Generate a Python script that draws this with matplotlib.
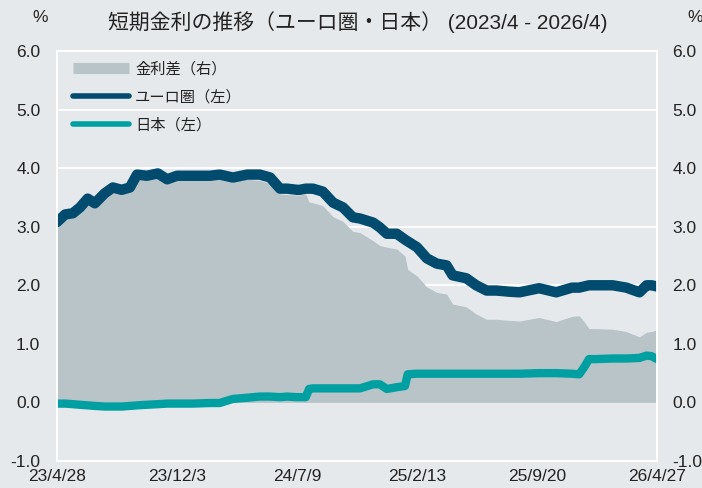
import matplotlib
matplotlib.use("Agg")
import matplotlib.pyplot as plt
from matplotlib.lines import Line2D
import pandas as pd

# ---------------------
# Data
# ---------------------
dates = [
    "2023-04-28", "2023-05-13", "2023-05-27", "2023-06-09", "2023-06-23",
    "2023-07-06", "2023-07-24", "2023-08-08", "2023-08-24", "2023-09-08",
    "2023-09-21", "2023-10-09", "2023-10-29", "2023-11-15", "2023-12-03",
    "2024-01-01", "2024-02-01", "2024-02-19", "2024-03-14", "2024-04-09",
    "2024-05-02", "2024-05-21", "2024-06-08", "2024-06-21", "2024-07-09",
    "2024-07-14", "2024-07-25", "2024-07-31", "2024-08-07", "2024-08-25",
    "2024-09-13", "2024-10-01", "2024-10-19", "2024-11-01", "2024-11-25",
    "2024-12-07", "2024-12-20", "2025-01-07", "2025-01-22", "2025-01-27",
    "2025-02-13", "2025-03-03", "2025-03-21", "2025-04-08", "2025-04-19",
    "2025-05-14", "2025-06-01", "2025-06-20", "2025-07-08", "2025-08-01",
    "2025-08-19", "2025-09-24", "2025-10-25", "2025-11-23", "2025-12-06",
    "2025-12-15", "2025-12-24", "2026-01-06", "2026-02-05", "2026-03-02",
    "2026-03-26", "2026-04-08", "2026-04-17", "2026-04-27",
]
euro = [
    3.08, 3.21, 3.23, 3.33, 3.48, 3.40, 3.57, 3.67, 3.63, 3.67,
    3.89, 3.87, 3.91, 3.81, 3.87, 3.87, 3.87, 3.89, 3.84, 3.89,
    3.89, 3.84, 3.65, 3.65, 3.63, 3.63, 3.65, 3.65, 3.65, 3.60,
    3.41, 3.33, 3.16, 3.14, 3.07, 2.99, 2.88, 2.88, 2.78, 2.75,
    2.65, 2.46, 2.37, 2.34, 2.17, 2.12, 2.00, 1.91, 1.91, 1.89,
    1.88, 1.95, 1.88, 1.96, 1.96, 1.98, 2.00, 2.00, 2.00, 1.96,
    1.88, 2.00, 2.00, 1.98,
]
japan = [
    -0.02, -0.02, -0.03, -0.04, -0.05, -0.06, -0.07, -0.07, -0.07, -0.06,
    -0.05, -0.04, -0.03, -0.02, -0.02, -0.02, -0.01, -0.01, 0.06, 0.08,
    0.10, 0.10, 0.09, 0.10, 0.09, 0.09, 0.09, 0.23, 0.24, 0.24,
    0.24, 0.24, 0.24, 0.24, 0.31, 0.31, 0.23, 0.26, 0.28, 0.48,
    0.49, 0.49, 0.49, 0.49, 0.49, 0.49, 0.49, 0.49, 0.49, 0.49,
    0.49, 0.50, 0.50, 0.49, 0.48, 0.60, 0.74, 0.74, 0.75, 0.75,
    0.76, 0.80, 0.79, 0.74,
]
spread = [
    3.10, 3.23, 3.26, 3.37, 3.53, 3.46, 3.64, 3.74, 3.70, 3.73,
    3.94, 3.91, 3.94, 3.83, 3.89, 3.89, 3.88, 3.90, 3.78, 3.81,
    3.79, 3.74, 3.56, 3.55, 3.54, 3.54, 3.56, 3.42, 3.41, 3.36,
    3.17, 3.09, 2.92, 2.90, 2.76, 2.68, 2.65, 2.62, 2.50, 2.27,
    2.16, 1.97, 1.88, 1.85, 1.68, 1.63, 1.51, 1.42, 1.42, 1.40,
    1.39, 1.45, 1.38, 1.47, 1.48, 1.38, 1.26, 1.26, 1.25, 1.21,
    1.12, 1.20, 1.21, 1.24,
]

tick_dates = ["2023-04-28", "2023-12-03", "2024-07-09",
              "2025-02-13", "2025-09-20", "2026-04-27"]
tick_labels = ["23/4/28", "23/12/3", "24/7/9", "25/2/13", "25/9/20", "26/4/27"]
y_ticks = [-1.0, 0.0, 1.0, 2.0, 3.0, 4.0, 5.0, 6.0]

TITLE = "短期金利の推移（ユーロ圏・日本） (2023/4 - 2026/4)"
LABEL_SPREAD = "金利差（右）"
LABEL_EURO = "ユーロ圏（左）"
LABEL_JAPAN = "日本（左）"

# ---------------------
# Style
# ---------------------
BG = "#e6e9ec"
FILL = "#b8c4c8"
NAVY = "#004b6e"
TEAL = "#00a0a2"
NUM_FONT = ["Liberation Sans", "Noto Sans CJK JP", "DejaVu Sans"]
CJK_FONT = ["Noto Sans CJK JP", "DejaVu Sans"]

plt.rcParams["font.family"] = NUM_FONT
plt.rcParams["text.color"] = "#222222"

x = pd.to_datetime(dates)
xt = pd.to_datetime(tick_dates)

fig = plt.figure(figsize=(7.02, 4.88), dpi=100, facecolor=BG)
ax = fig.add_axes([57 / 702, 1 - 461 / 488, 600 / 702, 410 / 488])
ax.set_facecolor(BG)

ax.fill_between(x, 0, spread, color=FILL, linewidth=0, zorder=2)
ax.plot(x, euro, color=NAVY, lw=7.5, solid_capstyle="round",
        solid_joinstyle="round", zorder=3)
ax.plot(x, japan, color=TEAL, lw=6, solid_capstyle="round",
        solid_joinstyle="round", zorder=4)

ax.set_xlim(xt[0], xt[-1])
ax.set_ylim(-1, 6)
ax.set_yticks(y_ticks)
ax.set_yticklabels([f"{v:.1f}" for v in y_ticks])
ax.set_xticks(xt)
ax.set_xticklabels(tick_labels)
ax.grid(axis="y", color="white", lw=1.3)
ax.set_axisbelow(True)
ax.tick_params(axis="both", length=0, labelsize=12.5, colors="#222222")
ax.tick_params(axis="y", pad=12)
ax.tick_params(axis="x", pad=6)
for s in ax.spines.values():
    s.set_color("white")
    s.set_linewidth(1.3)

# small tick marks on the zero line
sec = ax.secondary_xaxis((0 + 1) / 7)
sec.set_xticks(xt)
sec.tick_params(direction="in", length=4, width=1.2, color="white",
                labelbottom=False)
sec.spines["bottom"].set_visible(False)

ax2 = ax.twinx()
ax2.set_ylim(-1, 6)
ax2.set_yticks(y_ticks)
ax2.set_yticklabels([f"{v:.1f}" for v in y_ticks])
ax2.tick_params(axis="y", length=0, labelsize=12.5, pad=11, colors="#222222")
for s in ax2.spines.values():
    s.set_color("white")
    s.set_linewidth(1.3)

handles = [
    Line2D([0], [0], color=FILL, lw=8, solid_capstyle="butt"),
    Line2D([0], [0], color=NAVY, lw=4, solid_capstyle="round"),
    Line2D([0], [0], color=TEAL, lw=4, solid_capstyle="round"),
]
ax.legend(handles, [LABEL_SPREAD, LABEL_EURO, LABEL_JAPAN],
          loc="upper left", bbox_to_anchor=(0.003, 1.01), frameon=False,
          prop={"family": CJK_FONT, "size": 11}, handlelength=3.7,
          handletextpad=0.4, labelspacing=0.72)

fig.text(358 / 702, 1 - 22 / 488, TITLE, ha="center", va="center",
         fontsize=15)
fig.text(40 / 702, 1 - 18 / 488, "%", ha="center", va="center", fontsize=12.5)
fig.text(695 / 702, 1 - 18 / 488, "%", ha="center", va="center", fontsize=12.5)

fig.savefig("out.png", dpi=100, facecolor=BG)
plt.close(fig)
